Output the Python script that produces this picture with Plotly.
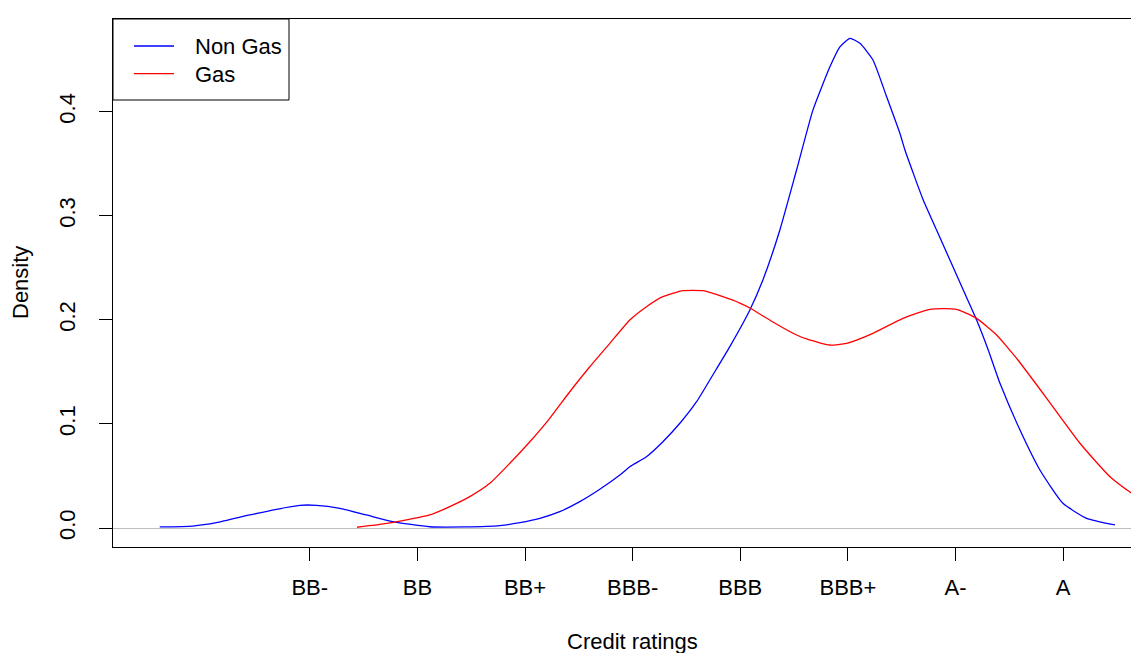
import plotly.graph_objects as go

# Credit rating categories (numeric positions 1..8)
ratings = ["BB-", "BB", "BB+", "BBB-", "BBB", "BBB+", "A-", "A"]
rating_pos = [1, 2, 3, 4, 5, 6, 7, 8]

# Density ticks
y_ticks = [0.0, 0.1, 0.2, 0.3, 0.4]
y_tick_labels = ["0.0", "0.1", "0.2", "0.3", "0.4"]

# Series names
series_names = ["Non Gas", "Gas"]
series_colors = ["#0000ff", "#ff0000"]

# Non Gas density curve
non_gas_x = [-0.394, -0.087, 0.133, 0.442, 0.691, 0.907, 1.062, 1.279, 1.527, 1.771,
             2.115, 2.44, 2.766, 2.952, 3.138, 3.323, 3.509, 3.695, 3.881, 3.974,
             4.129, 4.281, 4.439, 4.594, 4.745, 4.903, 5.089, 5.210, 5.368, 5.523,
             5.675, 5.833, 5.926, 6.019, 6.112, 6.233, 6.360, 6.483, 6.530, 6.700,
             6.824, 6.948, 7.072, 7.196, 7.304, 7.413, 7.599, 7.784, 7.998, 8.218,
             8.481]
non_gas_y = [0.001, 0.0019, 0.0051, 0.0125, 0.018, 0.0218, 0.0218, 0.0189, 0.0125, 0.0061,
             0.0012, 0.001, 0.0022, 0.0051, 0.0093, 0.0157, 0.0253, 0.0372, 0.0509, 0.0589,
             0.0685, 0.0829, 0.1006, 0.1213, 0.147, 0.1742, 0.2094, 0.2382, 0.2863, 0.3439,
             0.4015, 0.4431, 0.4623, 0.4704, 0.4656, 0.4496, 0.4143, 0.3792, 0.3631, 0.3151,
             0.2863, 0.2574, 0.2286, 0.1998, 0.1710, 0.1390, 0.0941, 0.0557, 0.0237, 0.0093,
             0.0029]

# Gas density curve
gas_x = [1.440, 1.651, 1.864, 2.115, 2.301, 2.487, 2.673, 2.859, 3.045, 3.230,
         3.416, 3.602, 3.788, 3.974, 4.129, 4.281, 4.467, 4.652, 4.838, 4.996,
         5.089, 5.303, 5.523, 5.616, 5.833, 5.988, 6.233, 6.512, 6.761,
         7.009, 7.196, 7.382, 7.490, 7.580, 7.847, 8.156, 8.435, 8.704, 8.85]
gas_y = [0.0007, 0.0034, 0.007, 0.0125, 0.0205, 0.0301, 0.0429, 0.0622, 0.0829, 0.1054,
         0.1309, 0.1549, 0.1774, 0.1998, 0.2126, 0.2222, 0.228, 0.228, 0.2222, 0.2161,
         0.2114, 0.1979, 0.1854, 0.1816, 0.1758, 0.1774, 0.187, 0.2014, 0.2101,
         0.2101, 0.2014, 0.1854, 0.1726, 0.1614, 0.1246, 0.0814, 0.0493, 0.0285, 0.019]

FONT = "Liberation Sans, Arial, sans-serif"
FS = 22

fig = go.Figure()
for name, color, xs, ys in [(series_names[0], series_colors[0], non_gas_x, non_gas_y),
                            (series_names[1], series_colors[1], gas_x, gas_y)]:
    fig.add_trace(go.Scatter(x=xs, y=ys, mode="lines", name=name, showlegend=False,
                             line=dict(color=color, width=1.3, shape="spline", smoothing=0.5)))

# Plot area in screen pixels: x 113..1147 (width 1034), y 19..547 (height 528)
PW, PH = 1034.0, 528.0


def px(x):
    return (x - 113) / PW


def py(y):
    return (547 - y) / PH


shapes = [
    dict(type="rect", xref="paper", yref="paper", x0=px(113), x1=px(289), y0=py(100), y1=py(19),
         line=dict(color="#000000", width=1), fillcolor="white", layer="above"),
]
annotations = [
    dict(text="Credit ratings", xref="paper", yref="paper", x=px(632), y=py(641),
         xanchor="center", yanchor="middle", showarrow=False,
         font=dict(family=FONT, size=FS, color="#000000")),
    dict(text="Density", xref="paper", yref="paper", x=px(20), y=py(283),
         xanchor="center", yanchor="middle", showarrow=False, textangle=-90,
         font=dict(family=FONT, size=FS, color="#000000")),
]
for i, (name, color) in enumerate(zip(series_names, series_colors)):
    ly = 46 + i * 27.6
    shapes.append(dict(type="line", xref="paper", yref="paper", x0=px(134), x1=px(174),
                       y0=py(ly), y1=py(ly), line=dict(color=color, width=1.3), layer="above"))
    annotations.append(dict(text=name, xref="paper", yref="paper", x=px(193), y=py(ly + 1),
                            xanchor="left", yanchor="middle", showarrow=False,
                            font=dict(family=FONT, size=FS, color="#000000")))

fig.update_layout(
    width=1139, height=645,
    margin=dict(l=105, r=0, t=11, b=106),
    paper_bgcolor="white", plot_bgcolor="white",
    font=dict(family=FONT, size=FS, color="#000000"),
    showlegend=False,
    xaxis=dict(range=[-0.828, 8.779], tickvals=rating_pos, ticktext=ratings,
               showline=True, linecolor="#000000", linewidth=1, mirror=True,
               ticks="outside", ticklen=13, tickwidth=1, tickcolor="#000000",
               showgrid=False, zeroline=False, ticklabelstandoff=8),
    yaxis=dict(range=[-0.01825, 0.489], tickvals=y_ticks, ticktext=y_tick_labels,
               tickangle=-90,
               showline=True, linecolor="#000000", linewidth=1, mirror=False,
               ticks="outside", ticklen=13, tickwidth=1, tickcolor="#000000",
               showgrid=False, zeroline=True, zerolinecolor="#bebebe", zerolinewidth=1,
               ticklabelstandoff=15),
    shapes=shapes,
    annotations=annotations,
)

fig.write_html("out.html")
